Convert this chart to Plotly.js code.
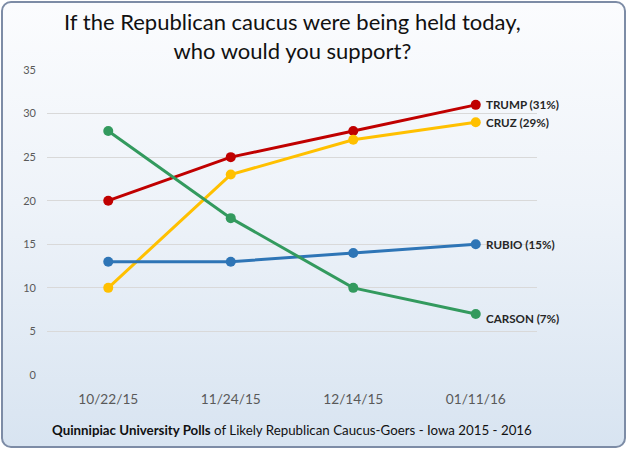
<!DOCTYPE html>
<html>
<head>
<meta charset="utf-8">
<script src="https://cdn.plot.ly/plotly-3.0.1.min.js"></script>
<style>
  html, body { margin: 0; padding: 0; background: #ffffff; }
  #wrap { position: relative; width: 628px; height: 450px; }
  #frame { position: absolute; left: 1px; top: 1px; width: 621px; height: 443px;
           border: 2px solid #7d8ca6; border-radius: 10px;
           background: linear-gradient(to bottom, #fbfcfe 0%, #eef3f9 45%, #d8e4f1 100%); }
  #chart { position: absolute; left: 0; top: 0; width: 628px; height: 450px; }
</style>
</head>
<body>
<div id="wrap"><div id="frame"></div><div id="chart"></div></div>
<script>
const categories = ["10/22/15", "11/24/15", "12/14/15", "01/11/16"];
const trump  = [20, 25, 28, 31];
const cruz   = [10, 23, 27, 29];
const rubio  = [13, 13, 14, 15];
const carson = [28, 18, 10, 7];
const seriesNames = ["TRUMP", "CRUZ", "RUBIO", "CARSON"];
const seriesColors = ["#c00000", "#ffc000", "#2e75b6", "#339a5e"];
const yTicks = [0, 5, 10, 15, 20, 25, 30, 35];

const allSeries = [trump, cruz, rubio, carson];
const labelYShift = [0, 0, 0, -4];
const FONT = "Lato, 'Open Sans', sans-serif";

const traces = allSeries.map((vals, i) => ({
  x: categories, y: vals, type: "scatter", mode: "lines+markers",
  name: seriesNames[i],
  line: { color: seriesColors[i], width: 3 },
  marker: { color: seriesColors[i], size: 10 },
  hoverinfo: "skip"
}));

const annotations = allSeries.map((vals, i) => ({
  x: categories[categories.length - 1], y: vals[vals.length - 1],
  xref: "x", yref: "y", xanchor: "left", yanchor: "middle",
  xshift: 8, yshift: labelYShift[i], showarrow: false,
  text: "<b>" + seriesNames[i] + " (" + vals[vals.length - 1] + "%)</b>",
  font: { family: FONT, size: 11.6, color: "#262626" }
}));

annotations.push({
  x: 0.5, y: 0, xref: "paper", yref: "paper", yanchor: "middle",
  yshift: -55, showarrow: false,
  text: "<b>Quinnipiac University Polls</b> of Likely Republican Caucus-Goers - Iowa 2015 - 2016",
  font: { family: FONT, size: 13.3, color: "#111111" }
});

annotations.push({
  x: 0.5, y: 1, xref: "paper", yref: "paper", xanchor: "center", yanchor: "bottom",
  yshift: 4, showarrow: false,
  text: "If the Republican caucus were being held today,<br>who would you support?",
  font: { family: FONT, size: 22, color: "#111111" }
});

const layout = {
  width: 628, height: 450,
  paper_bgcolor: "rgba(0,0,0,0)", plot_bgcolor: "rgba(0,0,0,0)",
  margin: { l: 47, r: 91, t: 70, b: 75 },
  showlegend: false,
  xaxis: {
    type: "category", range: [-0.5, 3.5], showgrid: false, zeroline: false,
    showline: false, ticks: "", ticklen: 0, ticklabelstandoff: 14,
    tickfont: { family: FONT, size: 13.7, color: "#595959" }
  },
  yaxis: {
    range: [0, 35], tickvals: yTicks, showgrid: true, gridcolor: "#d9d9d9", gridwidth: 1,
    zeroline: false, showline: false, ticks: "", ticklabelstandoff: 10,
    tickfont: { family: FONT, size: 11, color: "#595959" }
  },
  annotations: annotations
};

Plotly.newPlot("chart", traces, layout, { displayModeBar: false, staticPlot: true });
</script>
</body>
</html>
